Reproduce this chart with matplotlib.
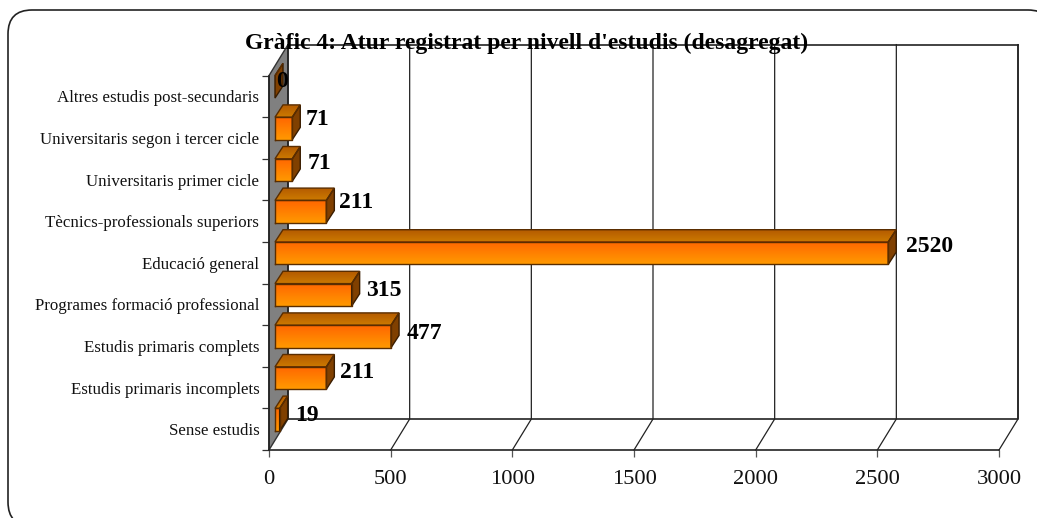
import numpy as np
import matplotlib
matplotlib.use('Agg')
from matplotlib import pyplot as plt
from matplotlib.patches import FancyBboxPatch, Polygon
from matplotlib.colors import LinearSegmentedColormap

plt.rcParams['font.family'] = ['Liberation Serif', 'DejaVu Serif']

# Dades
categories = ['Sense estudis', 'Estudis primaris incomplets', 'Estudis primaris complets',
              'Programes formació professional', 'Educació general',
              'Tècnics-professionals superiors', 'Universitaris primer cicle',
              'Universitaris segon i tercer cicle', 'Altres estudis post-secundaris']
valors = [19, 211, 477, 315, 2520, 211, 71, 71, 0]
xticks = [0, 500, 1000, 1500, 2000, 2500, 3000]
titol = "Gràfic 4: Atur registrat per nivell d'estudis (desagregat)"

# decalatge de les etiquetes respecte a la barra (px)
nudge_x = [8, 6, 8, 6, 10, 5, 7, 5, -7]
nudge_y = [-8, -7, -9, -8, -6, -3, -6, -3, -7]

W, H = 1037, 518
fig = plt.figure(figsize=(W / 100, H / 100), dpi=100)

# marc arrodonit, surt per la dreta i per baix
bg = fig.add_axes([0, 0, 1, 1])
bg.set_xlim(0, W)
bg.set_ylim(H, 0)
bg.axis('off')
bg.add_patch(FancyBboxPatch((32, 34), 996, 468, boxstyle='round,pad=24,rounding_size=24',
                            fc='white', ec='#222222', lw=1.2, clip_on=True))

# pla frontal de l'eix: 269-999 px, 75.6-450 px
ax = fig.add_axes([269 / W, 1 - 450 / H, 730 / W, (450 - 75.6) / H])
ax.set_xlim(0, 3000)
ax.set_ylim(0, 9)
ax.patch.set_alpha(0)

px_x = 3000 / 730
px_y = 9 / (450 - 75.6)
DX, DY = 19 * px_x, 31 * px_y      # profunditat total
BX, BY = 8 * px_x, 12.3 * px_y     # profunditat de les barres
X0 = 6 * px_x                      # inici de les barres
GAP = 0.46

# parets
ax.add_patch(Polygon([(0, 0), (DX, DY), (DX, 9 + DY), (0, 9)], fc='#808080', ec='#333333',
                     lw=1, clip_on=False, zorder=1))
ax.plot([DX, DX, 3000 + DX, 3000 + DX], [9 + DY, DY, DY, 9 + DY], color='#222222', lw=1.2,
        clip_on=False, zorder=1)
for v in xticks[1:]:
    ax.plot([v, v + DX, v + DX], [0, DY, 9 + DY], color='#222222', lw=0.9, clip_on=False, zorder=1)
ax.plot([DX, 3000 + DX], [9 + DY, 9 + DY], color='#222222', lw=1.2, clip_on=False, zorder=1)

front_cm = LinearSegmentedColormap.from_list('f', ['#FF9900', '#FF6600'])
top_cm = LinearSegmentedColormap.from_list('t', ['#CC7A00', '#B35900'])
grad = np.linspace(0, 1, 64).reshape(-1, 1)

for i in range(len(valors) - 1, -1, -1):
    v = valors[i]
    x1 = X0 + v
    y0, y1 = i + GAP, i + 1
    z = 5 + (len(valors) - i) * 0.1
    # cara superior
    sup = Polygon([(X0, y1), (x1, y1), (x1 + BX, y1 + BY), (X0 + BX, y1 + BY)], fc='none',
                  ec='#5a2d00', lw=1, clip_on=False, zorder=z + 0.03)
    im = ax.imshow(grad, extent=(X0, x1 + BX, y1, y1 + BY), origin='lower', cmap=top_cm,
                   aspect='auto', zorder=z, clip_on=True)
    ax.add_patch(sup)
    im.set_clip_path(sup)
    # cara lateral
    ax.add_patch(Polygon([(x1, y0), (x1 + BX, y0 + BY), (x1 + BX, y1 + BY), (x1, y1)], fc='#804000',
                         ec='#3a1d00', lw=1, clip_on=False, zorder=z + 0.02))
    # cara frontal
    if v > 0:
        im = ax.imshow(grad, extent=(X0, x1, y0, y1), origin='lower', cmap=front_cm,
                       aspect='auto', zorder=z + 0.01, clip_on=False)
        ax.plot([X0, x1, x1, X0, X0], [y0, y0, y1, y1, y0], color='#5a2d00', lw=1, clip_on=False,
                zorder=z + 0.04)
    ax.annotate(str(v), (x1 + BX, y1 + BY), xytext=(nudge_x[i] * 0.72, nudge_y[i] * 0.72 - 8),
                textcoords='offset points', ha='left', va='center', fontsize=17,
                fontweight='bold', color='black', zorder=9, annotation_clip=False)

ax.set_xlim(0, 3000)
ax.set_ylim(0, 9)

for s in ['top', 'right']:
    ax.spines[s].set_visible(False)
for s in ['left', 'bottom']:
    ax.spines[s].set_color('#222222')
    ax.spines[s].set_linewidth(1.2)
    ax.spines[s].set_zorder(2)

ax.set_xticks(xticks)
ax.set_xticklabels(xticks, fontsize=16.2, color='#111111')
ax.tick_params(axis='x', length=5, width=0.9, color='#555555', pad=9.5)
ax.set_yticks(range(10))
ax.set_yticklabels([])
ax.tick_params(axis='y', which='major', length=5, width=0.9, color='#333333')
ax.set_yticks(np.arange(len(categories)) + 0.5, minor=True)
ax.set_yticklabels(categories, minor=True, fontsize=12.15, color='#111111')
ax.tick_params(axis='y', which='minor', length=0, pad=7)

fig.text(527 / W, 1 - 43 / H, titol, ha='center', va='center', fontsize=17, fontweight='bold',
         color='black', zorder=10)

fig.savefig('out.png', dpi=100)
